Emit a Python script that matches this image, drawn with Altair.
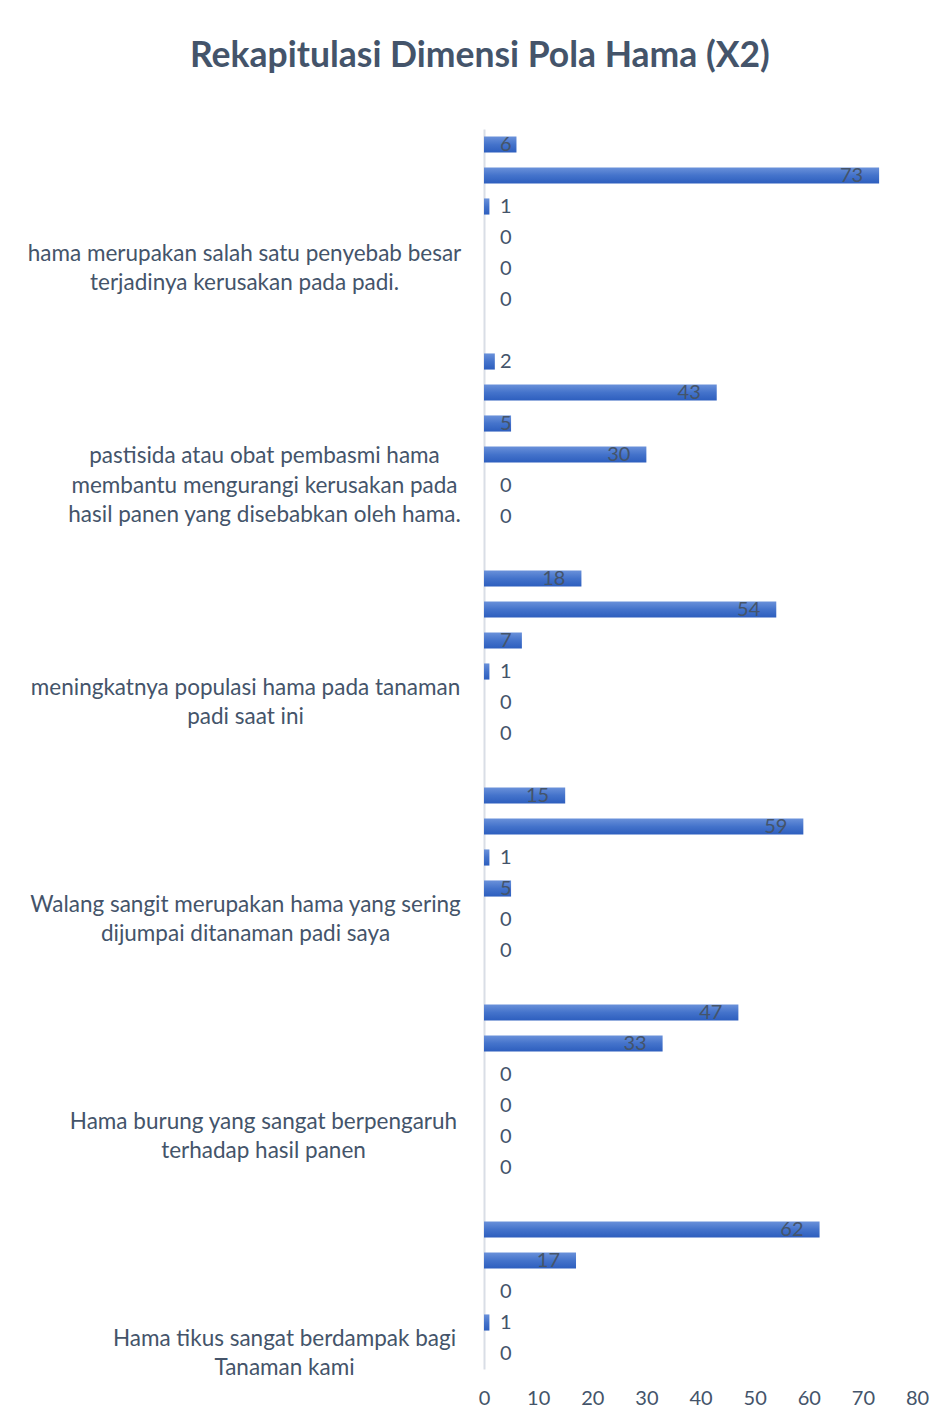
import altair as alt
import pandas as pd

# ---- data ----
statements = [
    ["hama merupakan salah satu penyebab besar", "terjadinya kerusakan pada padi."],
    ["pastisida atau obat pembasmi hama", "membantu mengurangi kerusakan pada",
     "hasil panen yang disebabkan oleh hama."],
    ["meningkatnya populasi hama pada tanaman", "padi saat ini"],
    ["Walang sangit merupakan hama yang sering", "dijumpai ditanaman padi saya"],
    ["Hama burung yang sangat berpengaruh", "terhadap hasil panen"],
    ["Hama tikus sangat berdampak bagi", "Tanaman kami"],
]
counts_hama_penyebab = [6, 73, 1, 0, 0, 0]
counts_pestisida = [2, 43, 5, 30, 0, 0]
counts_populasi = [18, 54, 7, 1, 0, 0]
counts_walang_sangit = [15, 59, 1, 5, 0, 0]
counts_burung = [47, 33, 0, 0, 0, 0]
counts_tikus = [62, 17, 0, 1, 0]
x_ticks = [0, 10, 20, 30, 40, 50, 60, 70, 80]

groups = [counts_hama_penyebab, counts_pestisida, counts_populasi,
          counts_walang_sangit, counts_burung, counts_tikus]

# ---- build table ----
rows, domain = [], []
for g, vals in enumerate(groups):
    for r, v in enumerate(vals):
        key = f"{g}-{r}"
        domain.append(key)
        rows.append({"row": key, "value": v})
    if g < len(groups) - 1:
        domain.append(f"{g}-gap")
df = pd.DataFrame(rows)

LABEL_ROW = 4
LINE_H = 29.5

def js_arr(lines):
    return "[" + ",".join("'" + l.replace("'", "\\'") + "'" for l in lines) + "]"

label_expr = "''"
for g in reversed(range(len(statements))):
    label_expr = f"datum.value == '{g}-{LABEL_ROW}' ? {js_arr(statements[g])} : ({label_expr})"

# horizontal centre of each wrapped label block (distance left of the axis)
label_pads = [240, 220, 239, 239, 221, 200]
pad_cond = {
    "condition": [{"test": f"datum.value == '{g}-{LABEL_ROW}'", "value": p}
                  for g, p in enumerate(label_pads)],
    "value": 230,
}
# centre multi-line blocks vertically on the row
off_cond = {
    "condition": [{"test": f"datum.value == '{g}-{LABEL_ROW}'",
                   "value": -(len(statements[g]) - 1) * LINE_H / 2}
                  for g in range(len(statements))],
    "value": 0,
}

TEXT = "#44546A"
FONT = "Lato"

gradient = alt.Gradient(
    gradient="linear", x1=0, x2=0, y1=0, y2=1,
    stops=[alt.GradientStop(color="#6A91DA", offset=0),
           alt.GradientStop(color="#4473CB", offset=0.5),
           alt.GradientStop(color="#2D5EBE", offset=1)],
)

yscale = alt.Scale(domain=domain, paddingInner=0.48, paddingOuter=0.24)
xscale = alt.Scale(domain=[0, 80], nice=False)

yaxis = alt.Axis(
    title=None, labelExpr=label_expr, labelAlign="center", labelBaseline="middle",
    labelPadding=pad_cond, labelOffset=off_cond, ticks=False, tickSize=0, grid=False,
    domainColor="#D9DEE6", domainWidth=2, labelFont=FONT, labelFontSize=22.5,
    labelColor=TEXT, labelLimit=700, labelLineHeight=LINE_H, labelOverlap=False,
)
xaxis = alt.Axis(
    title=None, values=x_ticks, domain=False, ticks=False, grid=False,
    labelFont=FONT, labelFontSize=20, labelColor=TEXT, labelPadding=19,
    labelFlush=False,
)

base = alt.Chart(df)
bars = base.mark_bar(color=gradient).encode(
    y=alt.Y("row:N", scale=yscale, axis=yaxis, sort=None),
    x=alt.X("value:Q", scale=xscale, axis=xaxis),
)
inside = base.transform_filter("datum.value >= 10").mark_text(
    align="right", baseline="middle", dx=-16, font=FONT, fontSize=20, color=TEXT
).encode(y=alt.Y("row:N", sort=None), x="value:Q", text="value:Q")
outside = base.transform_filter("datum.value < 10").mark_text(
    align="left", baseline="middle", dx=16, font=FONT, fontSize=20, color=TEXT
).encode(y=alt.Y("row:N", sort=None), x=alt.X(datum=0), text="value:Q")

chart = alt.layer(bars, inside, outside).properties(
    width=433, height=1240,
    autosize=alt.AutoSizeParams(type="none"),
    padding={"left": 476, "top": 121, "right": 20, "bottom": 45},
    title=alt.TitleParams(
        text="Rekapitulasi Dimensi Pola Hama (X2)", font=FONT, fontSize=35.5,
        fontWeight="bold", color=TEXT, anchor="middle", frame="bounds",
        baseline="alphabetic", offset=27, dx=2,
    ),
).configure_view(stroke=None)

chart.save("out.html", embed_options={"renderer": "svg", "actions": False})
